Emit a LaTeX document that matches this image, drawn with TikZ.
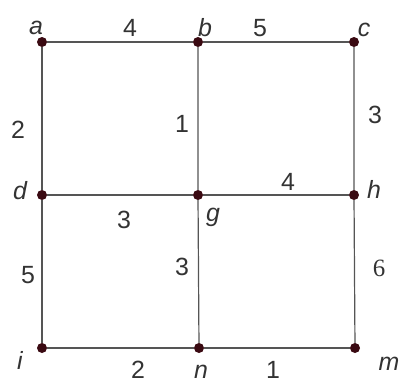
\documentclass[tikz,border=0pt]{standalone}
\usepackage{fontspec}
\setmainfont{Liberation Sans}
\newfontfamily\numserif{Liberation Serif}
\usetikzlibrary{positioning}
\definecolor{dotred}{HTML}{3A0A12}
\definecolor{edgegray}{HTML}{555555}

\begin{document}
\begin{tikzpicture}[x=1bp, y=-1bp,
  vert/.style={circle,fill=dotred,inner sep=0pt,minimum size=10bp},
  vlabel/.style={font=\fontsize{25}{25}\selectfont\itshape,text=black!80,inner sep=1pt},
  wt/.style={font=\fontsize{25}{25}\selectfont,text=black!80,inner sep=1pt},
  link/.style={draw=edgegray,line width=1.2bp}]
  \useasboundingbox (0,0) rectangle (399,383);
  \node[vert] (a) at (42,42) {};
  \node[vert] (b) at (198,42) {};
  \node[vert] (c) at (354,42) {};
  \node[vert] (d) at (42,195) {};
  \node[vert] (g) at (198,195) {};
  \node[vert] (h) at (354,195) {};
  \node[vert] (i) at (42,348) {};
  \node[vert] (n) at (199,348) {};
  \node[vert] (m) at (355,348) {};
  % vertex names
  \node[vlabel] (la) at (36,28) {a};
  \node[vlabel] (lb) at (205,28) {b};
  \node[vlabel] (lc) at (364,30) {c};
  \node[vlabel] (ld) at (20,191) {d};
  \node[vlabel] (lg) at (213,217) {g};
  \node[vlabel] (lh) at (374,189) {h};
  \node[vlabel] (li) at (20,360) {i};
  \node[vlabel] (ln) at (201,372) {n};
  \node[vlabel] (lm) at (389,364) {m};
  % edges
  \draw[link] (a) -- (b) -- (c);
  \draw[link] (d) -- (g) -- (h);
  \draw[link] (i) -- (n) -- (m);
  \draw[link] (a) -- (d) -- (i);
  \draw[link] (b) -- (g) -- (n);
  \draw[link] (c) -- (h) -- (m);
  % weights
  \node[wt] (w1) at (130,28) {4};
  \node[wt] (w2) at (260,28) {5};
  \node[wt] (w3) at (18,130) {2};
  \node[wt] (w4) at (182,124) {1};
  \node[wt] (w5) at (375,115) {3};
  \node[wt] (w6) at (124,220) {3};
  \node[wt] (w7) at (288,182) {4};
  \node[wt] (w8) at (28,275) {5};
  \node[wt] (w9) at (182,267) {3};
  \node[wt,font=\fontsize{25}{25}\selectfont\numserif] (w10) at (379,268) {6};
  \node[wt] (w11) at (138,370) {2};
  \node[wt] (w12) at (273,370) {1};
\end{tikzpicture}
\end{document}
